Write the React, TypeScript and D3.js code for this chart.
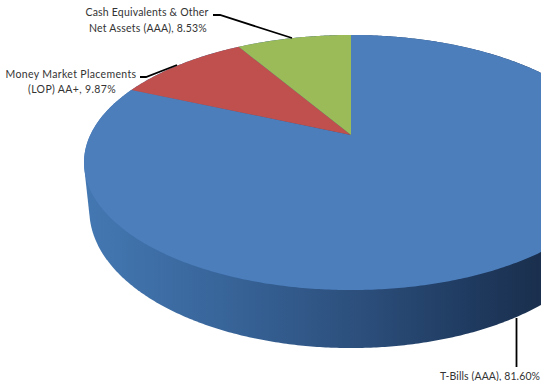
import React from "react";
import * as d3 from "d3";

const WIDTH = 541;
const HEIGHT = 381;

// Portfolio allocation, percent of net assets, clockwise from twelve o'clock
const holdings = ["T-Bills", "Money Market Placements", "Cash Equivalents"];
const shares = [81.6, 9.87, 8.53];
const sliceColours = ["#4c7ebc", "#c0504d", "#9bbb59"];

const calloutLines = [
  ["T-Bills (AAA), 81.60%"],
  ["Money Market Placements", "(LOP) AA+,  9.87%"],
  ["Cash Equivalents & Other", "Net Assets (AAA),  8.53%"],
];

// Perspective disc: centre of the pie, radius, tilt and wall height
const hub = { x: 351, y: 135 };
const radius = 260.7;
const tilt = 121.6;
const perspective = 0.2157;
const wallDrop = 45.5;
const floorShrink = 0.98;

type Pt = [number, number];

const topPoint = (a: number): Pt => {
  const u = Math.sin(a);
  const v = Math.cos(a);
  const w = 1 + perspective * v;
  return [hub.x + (radius * u) / w, hub.y - (tilt * v) / w];
};

const floorPoint = (a: number): Pt => {
  const u = Math.sin(a);
  const v = Math.cos(a);
  const w = 1 + perspective * v;
  return [
    hub.x + (radius * floorShrink * u) / w,
    hub.y - (tilt * v) / w + wallDrop / w,
  ];
};

const pieLayout = d3.pie<number>().sort(null).value((d) => d);
const arcs = pieLayout(shares);

const outline = d3.line<Pt>();

const slicePath = (start: number, end: number) => {
  const steps = Math.max(2, Math.ceil((end - start) / 0.01));
  const rim = d3.range(steps + 1).map((i) => topPoint(start + ((end - start) * i) / steps));
  return outline([[hub.x, hub.y], ...rim]) + "Z";
};

// Body of the disc: the hull of both rims, with the top face laid over it
const rimAngles = d3.range(720).map((i) => (i / 720) * 2 * Math.PI);
const bodyHull = d3.polygonHull([...rimAngles.map(topPoint), ...rimAngles.map(floorPoint)]) as Pt[];
const bodyPath = outline(bodyHull) + "Z";

const font = "Lato, 'Open Sans', sans-serif";

function Callout({
  lines,
  centres,
  y,
  gap,
  spacing,
}: {
  lines: string[];
  centres: number[];
  y: number;
  gap: number;
  spacing: number;
}) {
  return (
    <text textAnchor="middle" fontFamily={font} fontSize={10.5} letterSpacing={spacing} fill="#333">
      {lines.map((t, i) => (
        <tspan key={t} x={centres[i]} y={y + i * gap}>
          {t}
        </tspan>
      ))}
    </text>
  );
}

export default function App() {
  return (
    <svg
      width={WIDTH}
      height={HEIGHT}
      viewBox={`0 0 ${WIDTH} ${HEIGHT}`}
      style={{ position: "absolute", left: 0, top: 0, background: "#fff" }}
    >
      <defs>
        <linearGradient id="wall" gradientUnits="userSpaceOnUse" x1={84} x2={541} y1={0} y2={0}>
          <stop offset="0" stopColor="#4478b2" />
          <stop offset="0.3" stopColor="#38659a" />
          <stop offset="0.6" stopColor="#2c4f7c" />
          <stop offset="0.85" stopColor="#1f3a5f" />
          <stop offset="1" stopColor="#1a2f4d" />
        </linearGradient>
      </defs>

      <path d={bodyPath} fill="url(#wall)" />

      {arcs.map((arc, i) => (
        <path key={holdings[i]} d={slicePath(arc.startAngle, arc.endAngle)} fill={sliceColours[i]} />
      ))}

      <g stroke="#000" strokeWidth={1.8} fill="none">
        <polyline points="213,15 220,15 292,38" />
        <polyline points="140,77 146,77 177,65" />
        <polyline points="516.5,318 516.5,367" />
      </g>

      <Callout lines={calloutLines[2]} centres={[147, 148]} y={16} gap={16} spacing={0.2} />
      <Callout lines={calloutLines[1]} centres={[71, 72]} y={78} gap={14.5} spacing={0.35} />
      <Callout lines={calloutLines[0]} centres={[490]} y={380} gap={0} spacing={0.1} />
    </svg>
  );
}
